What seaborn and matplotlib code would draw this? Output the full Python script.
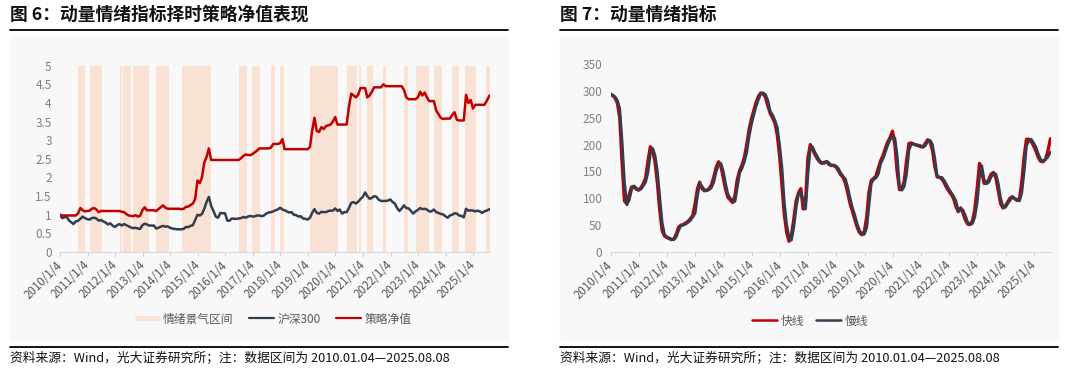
import numpy as np
import pandas as pd
import seaborn as sns
import matplotlib.pyplot as plt
from matplotlib.lines import Line2D
from matplotlib.patches import Rectangle

# monthly sample dates, first and last are the real data bounds
dates = pd.DatetimeIndex(["2010-01-04"]).append(
    pd.date_range("2010-02-01", "2025-07-01", freq="MS")).append(
    pd.DatetimeIndex(["2025-08-08"]))

# 沪深300 (normalised)
hs300 = [
    1.00, 0.91, 0.93, 0.95, 0.85, 0.80, 0.75, 0.82, 0.84, 0.89, 0.95, 0.91,  # 2010
    0.88, 0.87, 0.91, 0.92, 0.90, 0.84, 0.86, 0.82, 0.79, 0.74, 0.77, 0.71,  # 2011
    0.67, 0.72, 0.75, 0.71, 0.75, 0.72, 0.69, 0.66, 0.64, 0.65, 0.63, 0.62,  # 2012
    0.72, 0.76, 0.74, 0.71, 0.71, 0.71, 0.63, 0.65, 0.68, 0.70, 0.68, 0.69,  # 2013
    0.65, 0.63, 0.62, 0.61, 0.61, 0.61, 0.62, 0.67, 0.67, 0.70, 0.72, 0.86,  # 2014
    1.00, 0.98, 1.02, 1.16, 1.34, 1.48, 1.24, 1.10, 0.95, 0.92, 1.05, 1.04,  # 2015
    1.04, 0.84, 0.84, 0.90, 0.89, 0.89, 0.90, 0.91, 0.94, 0.92, 0.95, 0.97,  # 2016
    0.95, 0.96, 0.98, 0.98, 0.96, 0.98, 1.03, 1.06, 1.07, 1.09, 1.12, 1.14,  # 2017
    1.19, 1.14, 1.12, 1.09, 1.06, 1.07, 1.00, 0.99, 0.95, 0.96, 0.90, 0.89,  # 2018
    0.87, 0.92, 1.05, 1.15, 1.05, 1.03, 1.08, 1.07, 1.07, 1.10, 1.11, 1.11,  # 2019
    1.17, 1.10, 1.14, 1.03, 1.07, 1.07, 1.18, 1.32, 1.34, 1.30, 1.35, 1.42,  # 2020
    1.48, 1.60, 1.50, 1.43, 1.45, 1.50, 1.48, 1.40, 1.37, 1.37, 1.37, 1.38,  # 2021
    1.41, 1.34, 1.30, 1.18, 1.10, 1.17, 1.25, 1.18, 1.17, 1.10, 1.03, 1.09,  # 2022
    1.13, 1.18, 1.15, 1.16, 1.14, 1.09, 1.09, 1.14, 1.07, 1.05, 1.02, 1.01,  # 2023
    0.96, 0.92, 0.98, 1.00, 1.04, 1.03, 0.98, 0.97, 0.93, 1.16, 1.11, 1.12,  # 2024
    1.11, 1.09, 1.11, 1.09, 1.05, 1.09, 1.11, 1.15,                          # 2025
]

# 策略净值
strategy = [
    1.00, 0.98, 0.98, 0.98, 0.98, 0.98, 0.98, 0.98, 1.04, 1.18, 1.12, 1.09,  # 2010
    1.10, 1.11, 1.16, 1.18, 1.14, 1.07, 1.10, 1.10, 1.10, 1.10, 1.10, 1.10,  # 2011
    1.10, 1.10, 1.10, 1.08, 1.07, 1.02, 0.98, 0.97, 0.96, 0.99, 0.95, 0.97,  # 2012
    1.12, 1.20, 1.12, 1.12, 1.12, 1.12, 1.10, 1.15, 1.20, 1.25, 1.19, 1.16,  # 2013
    1.16, 1.16, 1.16, 1.16, 1.16, 1.15, 1.16, 1.21, 1.22, 1.26, 1.30, 1.42,  # 2014
    1.92, 1.85, 2.00, 2.40, 2.55, 2.78, 2.47, 2.47, 2.47, 2.47, 2.47, 2.47,  # 2015
    2.47, 2.47, 2.47, 2.47, 2.47, 2.47, 2.47, 2.52, 2.58, 2.62, 2.60, 2.60,  # 2016
    2.63, 2.68, 2.72, 2.78, 2.78, 2.78, 2.78, 2.78, 2.80, 2.90, 2.90, 2.90,  # 2017
    2.92, 3.03, 2.76, 2.76, 2.76, 2.76, 2.76, 2.76, 2.76, 2.76, 2.76, 2.76,  # 2018
    2.76, 2.82, 3.25, 3.60, 3.25, 3.22, 3.35, 3.30, 3.38, 3.40, 3.42, 3.50,  # 2019
    3.62, 3.42, 3.42, 3.42, 3.42, 3.42, 3.90, 4.25, 4.20, 4.15, 4.22, 4.40,  # 2020
    4.40, 4.40, 4.15, 4.20, 4.30, 4.42, 4.42, 4.42, 4.42, 4.50, 4.45, 4.45,  # 2021
    4.45, 4.45, 4.45, 4.45, 4.45, 4.45, 4.35, 4.15, 4.10, 4.10, 4.10, 4.10,  # 2022
    4.15, 4.30, 4.20, 4.28, 4.15, 4.05, 4.05, 4.05, 3.80, 3.70, 3.60, 3.57,  # 2023
    3.58, 3.58, 3.58, 3.68, 3.75, 3.55, 3.53, 3.53, 3.53, 4.22, 4.00, 4.08,  # 2024
    3.85, 3.95, 3.95, 3.95, 3.95, 3.95, 4.05, 4.20,                          # 2025
]

# 情绪景气区间
band_start = ["2010-08-30", "2011-02-02", "2012-03-15", "2012-04-18", "2012-08-25",
              "2013-07-05", "2014-06-10", "2016-07-01", "2016-12-20", "2017-09-01",
              "2018-01-05", "2019-01-28", "2020-06-01", "2020-11-12", "2021-02-26",
              "2021-09-22", "2022-06-27", "2022-12-12", "2023-08-02", "2024-03-24",
              "2024-09-13", "2025-06-18"]
band_end = ["2010-11-28", "2011-07-15", "2012-04-05", "2012-08-03", "2013-03-29",
            "2013-12-20", "2015-06-25", "2016-10-23", "2017-04-05", "2017-10-23",
            "2018-02-15", "2020-02-06", "2020-10-16", "2020-12-14", "2021-05-21",
            "2021-11-10", "2022-08-28", "2023-05-24", "2023-11-12", "2024-07-04",
            "2025-02-06", "2025-08-08"]

# 动量情绪指标
fast = [
    294, 291, 287, 277, 250, 165, 95, 90, 107, 121, 122, 117,      # 2010
    115, 120, 127, 138, 168, 196, 189, 168, 128, 78, 40, 30,       # 2011
    27, 25, 23, 24, 33, 46, 50, 51, 54, 57, 62, 68,                # 2012
    90, 118, 130, 118, 114, 115, 118, 125, 140, 158, 168, 160,     # 2013
    138, 116, 102, 97, 92, 105, 135, 152, 162, 176, 200, 228,      # 2014
    248, 264, 278, 290, 296, 295, 288, 272, 258, 250, 240, 218,    # 2015
    178, 122, 70, 36, 20, 30, 60, 95, 110, 118, 80, 95,            # 2016
    175, 200, 191, 182, 174, 168, 165, 167, 168, 163, 161, 161,    # 2017
    158, 151, 144, 139, 128, 110, 90, 75, 60, 46, 36, 32,          # 2018
    38, 65, 110, 133, 137, 141, 156, 170, 180, 193, 205, 213,      # 2019
    225, 200, 150, 116, 118, 132, 170, 202, 203, 201, 199, 198,    # 2020
    196, 196, 202, 209, 205, 190, 160, 140, 139, 136, 129, 120,    # 2021
    113, 107, 100, 85, 75, 82, 73, 60, 52, 51, 58, 78,             # 2022
    118, 165, 150, 128, 128, 135, 145, 148, 138, 115, 90, 82,      # 2023
    86, 93, 100, 103, 99, 96, 98, 130, 178, 210, 210, 206,         # 2024
    198, 188, 177, 169, 168, 172, 185, 211,                        # 2025
]
slow = [
    293, 292, 289, 282, 267, 205, 130, 88, 97, 116, 123, 119,      # 2010
    116, 117, 123, 130, 148, 182, 193, 180, 150, 102, 55, 33,      # 2011
    28, 26, 24, 23, 28, 40, 49, 50, 52, 55, 59, 65,                # 2012
    72, 105, 127, 122, 116, 114, 116, 120, 131, 150, 162, 165,     # 2013
    150, 126, 108, 100, 95, 94, 120, 147, 156, 168, 186, 215,      # 2014
    238, 256, 271, 284, 294, 296, 293, 282, 262, 255, 245, 232,    # 2015
    198, 155, 92, 50, 28, 22, 45, 82, 108, 112, 95, 80,            # 2016
    145, 195, 196, 186, 178, 170, 166, 165, 169, 166, 161, 162,    # 2017
    160, 155, 147, 141, 136, 120, 100, 82, 68, 52, 40, 33,         # 2018
    33, 45, 85, 128, 135, 138, 145, 165, 174, 186, 199, 209,       # 2019
    216, 212, 180, 120, 115, 122, 145, 190, 201, 201, 200, 199,    # 2020
    198, 195, 198, 206, 208, 200, 175, 142, 139, 139, 133, 125,    # 2021
    117, 110, 104, 95, 77, 82, 78, 68, 55, 52, 53, 65,             # 2022
    92, 140, 161, 135, 127, 130, 140, 146, 145, 128, 100, 84,      # 2023
    83, 90, 96, 102, 100, 98, 95, 110, 150, 198, 207, 210,         # 2024
    203, 195, 183, 173, 168, 172, 176, 186,                        # 2025
]

years = list(range(2010, 2026))
year_ticks = [pd.Timestamp(f"{y}-01-04") for y in years]
year_labels = [f"{y}/1/4" for y in years]

RED = "#C00000"
NAVY = "#323E4F"
PEACH = "#F9E1D3"
PANEL = "#F8F8F8"

sns.set_theme(style="white")
plt.rcParams["font.family"] = ["Noto Sans CJK SC", "DejaVu Sans"]

fig = plt.figure(figsize=(10.8, 3.72), dpi=100)
W, H = 1080, 372


def fx(px):
    return px / W


def fy(py):
    return 1 - py / H


def frame(x0, x1, title):
    # grey panel, title, rules, footer
    fig.patches.append(Rectangle((fx(x0), fy(340)), fx(x1 - x0), (340 - 37) / H,
                                 transform=fig.transFigure, color=PANEL, zorder=-5))
    fig.text(fx(x0), fy(15), title, fontsize=12.8, fontweight="bold",
             va="center", ha="left", color="#111111")
    for yy in (30, 347):
        fig.add_artist(Line2D([fx(x0), fx(x1)], [fy(yy), fy(yy)], color="black",
                              lw=1.3, transform=fig.transFigure))
    fig.text(fx(x0), fy(357.5), "资料来源：Wind，光大证券研究所；注：数据区间为 2010.01.04—2025.08.08",
             fontsize=9.2, va="center", ha="left", color="#111111")


def style_axis(ax, ymax, ystep):
    ax.set_facecolor("none")
    ax.set_xlim(pd.Timestamp("2010-01-04"), pd.Timestamp("2025-08-08"))
    ax.set_ylim(0, ymax)
    yt = np.arange(0, ymax + ystep / 2, ystep)
    ax.set_yticks(yt)
    ax.set_yticklabels([f"{v:g}" for v in yt], color="#808080", fontsize=8.5)
    ax.set_xticks(year_ticks)
    ax.set_xticklabels(year_labels, rotation=45, ha="right", va="center",
                       rotation_mode="anchor", color="#595959", fontsize=8.3)
    ax.tick_params(axis="x", length=3, width=0.7, color="#D0D0D0", pad=5, bottom=True)
    ax.tick_params(axis="y", length=0, pad=6)
    for s in ("top", "right", "left"):
        ax.spines[s].set_visible(False)
    ax.spines["bottom"].set_color("#D9D9D9")
    ax.spines["bottom"].set_linewidth(0.8)
    ax.set_xlabel("")
    ax.set_ylabel("")
    ax.grid(False)


# left chart
frame(10, 508, "图 6：动量情绪指标择时策略净值表现")
ax1 = fig.add_axes([fx(60), fy(252), fx(429.5), 186.3 / H])
for s, e in zip(band_start, band_end):
    ax1.axvspan(pd.Timestamp(s), pd.Timestamp(e), color=PEACH, lw=0, zorder=0)
sns.lineplot(x=dates, y=hs300, ax=ax1, color=NAVY, lw=1.8, zorder=3)
sns.lineplot(x=dates, y=strategy, ax=ax1, color=RED, lw=1.8, zorder=4)
style_axis(ax1, 5, 0.5)

h1 = [Line2D([], [], color=PEACH, lw=3.6, solid_capstyle="butt"),
      Line2D([], [], color=NAVY, lw=1.6),
      Line2D([], [], color=RED, lw=1.6)]
fig.legend(h1, ["情绪景气区间", "沪深300", "策略净值"], loc="center",
           bbox_to_anchor=(fx(273), fy(319)), ncol=3, frameon=False,
           fontsize=8.5, handlelength=2.1, handletextpad=0.3, columnspacing=1.3,
           labelcolor="#595959")

# right chart
frame(560, 1058, "图 7：动量情绪指标")
ax2 = fig.add_axes([fx(610.7), fy(252), fx(439.8), 188 / H])
sns.lineplot(x=dates, y=fast, ax=ax2, color=RED, lw=2.4, zorder=3)
sns.lineplot(x=dates, y=slow, ax=ax2, color=NAVY, lw=2.0, zorder=4)
style_axis(ax2, 350, 50)

h2 = [Line2D([], [], color=RED, lw=1.8), Line2D([], [], color=NAVY, lw=1.8)]
fig.legend(h2, ["快线", "慢线"], loc="center", bbox_to_anchor=(fx(810), fy(321)),
           ncol=2, frameon=False, fontsize=8.5, handlelength=2.1,
           handletextpad=0.3, columnspacing=1.0, labelcolor="#595959")

fig.savefig("out.png", dpi=100)
